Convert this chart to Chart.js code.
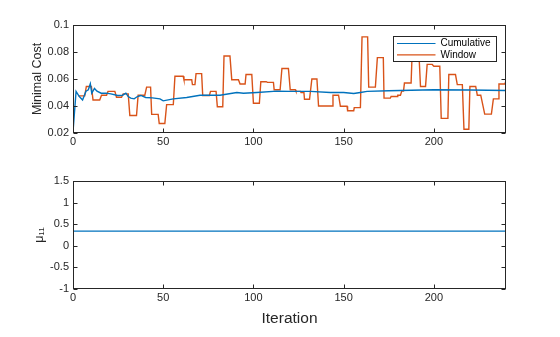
<!DOCTYPE html>
<html>
<head>
<meta charset="utf-8">
<script src="https://cdn.jsdelivr.net/npm/chart.js@4.4.0/dist/chart.umd.min.js"></script>
<style>
  html, body { margin: 0; padding: 0; background: #fff; }
  #wrap { position: relative; width: 560px; height: 337px; }
  canvas { position: absolute; left: 0; }
  #costChart { top: 0; }
  #muChart { top: 150px; }
</style>
</head>
<body>
<div id="wrap">
  <canvas id="costChart" width="560" height="150"></canvas>
  <canvas id="muChart" width="560" height="187"></canvas>
</div>
<script>
// values
const iterTicks = [0, 50, 100, 150, 200];
const costTicks = [0.02, 0.04, 0.06, 0.08, 0.1];
const muTicks = [-1, -0.5, 0, 0.5, 1, 1.5];

const cumIter = [0, 1.7, 3.5, 5.3, 7.2, 8.5, 9.6, 10.4, 11.9, 13.3, 15.6, 18.3, 21, 24.7, 27.5, 29.3,
  30.6, 32, 33.9, 35.7, 37.6, 40.3, 44, 48.2, 50, 55.6, 63, 70.4, 81.5, 90.8, 94.5, 101.9, 113,
  120.4, 131.5, 142.6, 150, 155.6, 159.3, 163, 175, 200, 220, 240];
const cumCost = [0.0208, 0.0508, 0.047, 0.0445, 0.051, 0.052, 0.0565, 0.0495, 0.053, 0.051, 0.0495,
  0.0495, 0.049, 0.0478, 0.048, 0.0495, 0.047, 0.0458, 0.0453, 0.047, 0.0478, 0.0463, 0.046, 0.0453,
  0.0438, 0.0453, 0.0463, 0.048, 0.048, 0.05, 0.0495, 0.05, 0.051, 0.0508, 0.0508, 0.05, 0.05,
  0.0493, 0.05, 0.0508, 0.0513, 0.052, 0.0518, 0.0515];

const winIter = [
  3, 6.5, 7.4, 10.2, 11.1, 14.8, 15.8, 18.6, 19.4, 23.2,
  24.1, 26.9, 27.8, 30.6, 31.5, 35.2, 36.1, 39.8, 40.8, 43,
  43.6, 47.2, 47.8, 50.9, 51.9, 55.6, 56.5, 61.1, 61.5, 65.8,
  66.2, 67.6, 68.2, 71.3, 71.9, 75.6, 76.2, 79.3, 80, 83,
  83.7, 87, 88, 91.7, 92.6, 95.4, 95.9, 99.1, 100, 103.3,
  104.1, 107.1, 107.8, 111.1, 111.5, 114.8, 115.8, 119.4, 120.4, 123.2,
  123.6, 126.1, 126.4, 128, 128.3, 131.1, 132.4, 135.2, 136.1, 143.6,
  144.1, 147.2, 148.2, 151.9, 152.2, 155.6, 155.9, 159.3, 160.2, 163.3,
  163.9, 167.6, 168.7, 172, 172.4, 175.9, 176.3, 179.7, 180, 181.5,
  182.2, 183.2, 183.7, 187.4, 188, 191.7, 192.6, 195.4, 196.3, 199.1,
  200, 203.3, 204.1, 207.8, 208.3, 212, 213, 215.8, 216.7, 219.4,
  220, 223.2, 224.1, 226, 228.2, 231.9, 233, 235.6, 236.1, 239.4, 240
];
const winCost = [
  0.0475, 0.0475, 0.0545, 0.0545, 0.0445, 0.0445, 0.048, 0.048, 0.0508, 0.0508,
  0.0465, 0.0465, 0.049, 0.049, 0.033, 0.033, 0.048, 0.048, 0.054, 0.054,
  0.0338, 0.0338, 0.027, 0.027, 0.041, 0.041, 0.062, 0.062, 0.0595, 0.0595,
  0.0558, 0.0558, 0.064, 0.064, 0.0478, 0.0478, 0.0508, 0.0508, 0.0395, 0.0395,
  0.077, 0.077, 0.0595, 0.0595, 0.0563, 0.0563, 0.0633, 0.0633, 0.042, 0.042,
  0.058, 0.058, 0.0575, 0.0575, 0.052, 0.052, 0.0678, 0.0678, 0.052, 0.052,
  0.0508, 0.0508, 0.05, 0.05, 0.045, 0.045, 0.06, 0.06, 0.04, 0.04,
  0.048, 0.048, 0.0398, 0.0398, 0.0365, 0.0365, 0.0388, 0.0388, 0.0912, 0.0912,
  0.054, 0.054, 0.0758, 0.0758, 0.0458, 0.0458, 0.047, 0.047, 0.048, 0.048,
  0.051, 0.051, 0.057, 0.057, 0.08, 0.08, 0.0545, 0.0545, 0.0708, 0.0708,
  0.0695, 0.0695, 0.0308, 0.0308, 0.0633, 0.0633, 0.0558, 0.0558, 0.0228, 0.0228,
  0.0545, 0.0545, 0.048, 0.048, 0.034, 0.034, 0.0453, 0.0453, 0.0563, 0.0563, 0.0588
];

const muIter = [0, 240];
const muVal = [0.34, 0.34];

const axisColor = '#262626';
const blue = '#0072BD';
const orange = '#D95319';

Chart.defaults.font.family = '"Liberation Sans", Arial, sans-serif';
Chart.defaults.font.size = 11;
Chart.defaults.color = axisColor;

function toPoints(xs, ys) {
  return xs.map((x, i) => ({ x: x, y: ys[i] }));
}

// matlab style box with inward ticks on all four sides
const boxPlugin = {
  id: 'matlabBox',
  afterDraw(chart) {
    const { ctx, chartArea: a, scales } = chart;
    const L = Math.round(a.left) + 0.5, R = Math.round(a.right) - 0.5;
    const T = Math.round(a.top) + 0.5, B = Math.round(a.bottom) - 0.5;
    ctx.save();
    ctx.strokeStyle = axisColor;
    ctx.lineWidth = 1;
    ctx.strokeRect(L, T, R - L, B - T);
    ctx.beginPath();
    scales.x.ticks.forEach(t => {
      const px = Math.round(scales.x.getPixelForValue(t.value)) + 0.5;
      ctx.moveTo(px, B); ctx.lineTo(px, B - 4);
      ctx.moveTo(px, T); ctx.lineTo(px, T + 4);
    });
    scales.y.ticks.forEach(t => {
      const py = Math.round(scales.y.getPixelForValue(t.value)) + 0.5;
      ctx.moveTo(L, py); ctx.lineTo(L + 4, py);
      ctx.moveTo(R, py); ctx.lineTo(R - 4, py);
    });
    ctx.stroke();
    ctx.restore();
  }
};

// legend box in the upper right of the axes
const legendPlugin = {
  id: 'boxLegend',
  afterDraw(chart) {
    const { ctx, chartArea: a } = chart;
    const w = 103, h = 25;
    const left = Math.round(a.right - 10 - w) + 0.5, top = Math.round(a.top + 11) + 0.5;
    ctx.save();
    ctx.fillStyle = '#fff';
    ctx.fillRect(left, top, w, h);
    ctx.strokeStyle = axisColor;
    ctx.lineWidth = 1;
    ctx.strokeRect(left, top, w, h);
    ctx.font = '10px "Liberation Sans", Arial, sans-serif';
    ctx.textBaseline = 'middle';
    chart.data.datasets.forEach((ds, i) => {
      const y = top + 7 + i * 11.3;
      ctx.strokeStyle = ds.borderColor;
      ctx.lineWidth = 1.2;
      ctx.beginPath();
      ctx.moveTo(left + 3.5, y);
      ctx.lineTo(left + 42, y);
      ctx.stroke();
      ctx.fillStyle = '#000';
      ctx.fillText(ds.label, left + 47, y);
    });
    ctx.restore();
  }
};

function xScale(height, title) {
  return {
    type: 'linear',
    min: 0,
    max: 240,
    afterBuildTicks: s => { s.ticks = iterTicks.map(v => ({ value: v })); },
    afterFit: s => { s.height = height; },
    grid: { display: false, drawTicks: false },
    border: { display: false },
    ticks: { padding: 2, callback: v => String(v), maxRotation: 0 },
    title: title
  };
}

function yScale(min, max, ticks, width, title) {
  return {
    min: min,
    max: max,
    afterBuildTicks: s => { s.ticks = ticks.map(v => ({ value: v })); },
    afterFit: s => { s.width = width; },
    grid: { display: false, drawTicks: false },
    border: { display: false },
    ticks: { padding: 4, callback: v => String(v) },
    title: title
  };
}

new Chart(document.getElementById('costChart'), {
  type: 'line',
  data: {
    datasets: [
      { label: 'Cumulative', data: toPoints(cumIter, cumCost), borderColor: blue, borderWidth: 1.4 },
      { label: 'Window', data: toPoints(winIter, winCost), borderColor: orange, borderWidth: 1.4 }
    ]
  },
  options: {
    responsive: false,
    animation: false,
    devicePixelRatio: 1,
    layout: { padding: { left: 30.5, right: 54, top: 25, bottom: 0 } },
    elements: { point: { radius: 0 }, line: { tension: 0 } },
    plugins: { legend: { display: false }, tooltip: { enabled: false } },
    scales: {
      x: xScale(17),
      y: yScale(0.02, 0.1, costTicks, 42.5,
        { display: true, text: 'Minimal Cost', padding: 0, font: { size: 12.5 } })
    }
  },
  plugins: [boxPlugin, legendPlugin]
});

new Chart(document.getElementById('muChart'), {
  type: 'line',
  data: {
    datasets: [
      { label: 'mu11', data: toPoints(muIter, muVal), borderColor: blue, borderWidth: 1.4 }
    ]
  },
  options: {
    responsive: false,
    animation: false,
    devicePixelRatio: 1,
    layout: { padding: { left: 32.5, right: 54, top: 31, bottom: 0 } },
    elements: { point: { radius: 0 }, line: { tension: 0 } },
    plugins: { legend: { display: false }, tooltip: { enabled: false } },
    scales: {
      x: xScale(48, { display: true, text: 'Iteration', padding: { top: 0, bottom: 8.7 }, font: { size: 15.5 } }),
      y: yScale(-1, 1.5, muTicks, 40.5,
        { display: true, text: 'μ₁₁', padding: 0, font: { size: 12.5 } })
    }
  },
  plugins: [boxPlugin]
});
</script>
</body>
</html>
